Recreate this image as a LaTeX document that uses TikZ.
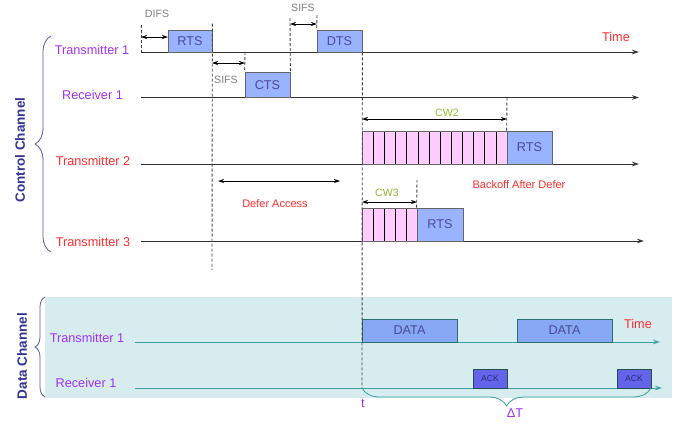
\documentclass[tikz,border=0pt]{standalone}
\usepackage{fontspec}
\setmainfont{Liberation Sans}
\usetikzlibrary{arrows.meta,decorations.pathreplacing,positioning}

\definecolor{lblpurple}{RGB}{160,50,240}
\definecolor{lblred}{RGB}{255,45,45}
\definecolor{boxblue}{RGB}{153,179,255}
\definecolor{boxtext}{RGB}{75,75,150}
\definecolor{slotpink}{RGB}{255,204,255}
\definecolor{cwgreen}{RGB}{150,185,50}
\definecolor{chanblue}{RGB}{51,51,150}
\definecolor{bracecol}{RGB}{85,85,170}
\definecolor{databg}{RGB}{214,236,238}
\definecolor{datateal}{RGB}{60,160,160}
\definecolor{datablue}{RGB}{135,168,245}
\definecolor{ackblue}{RGB}{100,100,235}

\newcommand{\lblfont}{\fontsize{12.7}{15}\selectfont}
\newcommand{\tagfont}{\fontsize{10.6}{13}\selectfont}
\newcommand{\notefont}{\fontsize{11}{13}\selectfont}
\newcommand{\ackfont}{\fontsize{8.6}{10}\selectfont}
\newcommand{\chanfont}{\fontsize{13.5}{16}\selectfont\bfseries}

\tikzset{
  tl/.style={-{Stealth[length=7pt,width=4.5pt]},line width=0.9pt,black!80},
  dl/.style={-{Stealth[length=7pt,width=4.5pt]},line width=0.9pt,datateal},
  gap/.style={{Stealth[length=6pt,width=4pt]}-{Stealth[length=6pt,width=4pt]},line width=0.8pt,black},
  vdash/.style={dash pattern=on 3pt off 2pt,line width=0.9pt,black!75},
  pkt/.style={draw=black!60,fill=boxblue,text=boxtext,inner sep=0pt,font=\lblfont,line width=0.7pt},
  datapkt/.style={draw=datateal!70!black,fill=datablue,text=boxtext,inner sep=0pt,font=\lblfont,line width=0.7pt},
  ackpkt/.style={draw=datateal!50!black,fill=ackblue,text=chanblue!80!black,inner sep=0pt,font=\ackfont,line width=0.7pt},
  slot/.style={draw=black,fill=slotpink,line width=0.5pt},
  station/.style={font=\lblfont,text=#1},
  tag/.style={font=\tagfont,text=#1},
  cbrace/.style={decorate,decoration={brace,amplitude=#1},draw=bracecol,line width=0.8pt}
}

\begin{document}
\begin{tikzpicture}[x=1pt,y=-1pt]
    \useasboundingbox (0,0) rectangle (686,424);

    \fill[databg] (45,297) rectangle (672,398);

    \coordinate (ta1s) at (141,52);   \coordinate (ta1e) at (639,52);
    \coordinate (ra1s) at (141,97.5); \coordinate (ra1e) at (639,97.5);
    \coordinate (ta2s) at (141,164);  \coordinate (ta2e) at (639,164);
    \coordinate (ta3s) at (141,241);  \coordinate (ta3e) at (644,241);
    \coordinate (dt1s) at (135,342);  \coordinate (dt1e) at (660,342);
    \coordinate (dr1s) at (135,388);  \coordinate (dr1e) at (662,388);

    \draw[tl] (ta1s) -- (ta1e);
    \draw[tl] (ra1s) -- (ra1e);
    \draw[tl] (ta2s) -- (ta2e);
    \draw[tl] (ta3s) -- (ta3e);
    \draw[dl] (dt1s) -- (dt1e);
    \draw[dl] (dr1s) -- (dr1e);

    \node[station=lblpurple] (lta1) at (92,50) {Transmitter 1};
    \node[station=lblpurple] (lra1) at (92.5,95) {Receiver 1};
    \node[station=lblred] (lta2) at (93,161) {Transmitter 2};
    \node[station=lblred] (lta3) at (93,242) {Transmitter 3};
    \node[station=lblpurple] (ldt1) at (87,338) {Transmitter 1};
    \node[station=lblpurple] (ldr1) at (86,383) {Receiver 1};

    \node[pkt,minimum width=44pt,minimum height=22pt] (rtsa) at (190,41) {RTS};
    \node[pkt,minimum width=45pt,minimum height=25.5pt] (cts) at (267.5,84.75) {CTS};
    \node[pkt,minimum width=45pt,minimum height=22pt] (dts) at (339.5,41) {DTS};

    \foreach \i in {0,...,12}
        \draw[slot] ({362+11.154*\i},131) rectangle ({362+11.154*(\i+1)},164);
    \draw[black!60,line width=0.7pt] (362,131) rectangle (507,164);
    \node[pkt,minimum width=45pt,minimum height=33pt] (rtsb) at (529.5,147.5) {RTS};

    \foreach \i in {0,...,4}
        \draw[slot] ({362+11*\i},208) rectangle ({362+11*(\i+1)},241);
    \draw[black!60,line width=0.7pt] (362,208) rectangle (417,241);
    \node[pkt,minimum width=46pt,minimum height=33pt] (rtsc) at (440,224.5) {RTS};

    \node[datapkt,minimum width=95pt,minimum height=23pt] (dataa) at (409.5,330.5) {DATA};
    \node[datapkt,minimum width=95pt,minimum height=23pt] (datab) at (564.5,330.5) {DATA};
    \node[ackpkt,minimum width=34pt,minimum height=19pt] (acka) at (490,378.5) {ACK};
    \node[ackpkt,minimum width=34pt,minimum height=19pt] (ackb) at (634,378.5) {ACK};

    \draw[vdash] (141,25) -- (ta1s);
    \draw[vdash] ([yshift=6pt]rtsa.north east) -- (212,270);
    \draw[vdash] (245,52) -- (cts.north west);
    \draw[vdash] (290,18) -- (cts.north east);
    \draw[vdash] (317,15) -- (dts.north west);
    \draw[vdash] (dts.south east) -- (362,388);
    \draw[vdash] (rtsb.north west) -- (507,97.5);
    \draw[vdash] (rtsc.north west) -- (417,180);

    \draw[gap] (141,37) -- (168,37);
    \draw[gap] (212,63) -- (245,63);
    \draw[gap] (290,24) -- (317,24);
    \draw[gap] (362,119) -- (507,119);
    \draw[gap] (218,181) -- (340,181);
    \draw[gap] (362,202) -- (417,202);

    \node[tag=black!50] (difs) at (157,14) {DIFS};
    \node[tag=black!50] (sifsa) at (226,80) {SIFS};
    \node[tag=black!50] (sifsb) at (303,8) {SIFS};
    \node[tag=cwgreen] (cwb) at (447,113) {CW2};
    \node[tag=cwgreen] (cwc) at (387,193) {CW3};
    \node[font=\notefont,text=lblred] (defer) at (275,204) {Defer Access};
    \node[font=\notefont,text=lblred] (backoff) at (519,185) {Backoff After Defer};
    \node[station=lblred] (timea) at (616,37) {Time};
    \node[station=lblred] (timeb) at (638,324) {Time};
    \node[station=lblpurple] (tstart) at (363,403) {t};
    \node[station=lblpurple] (dtime) at (515,413) {ΔT};

    \draw[cbrace=16pt] (51,252) -- (51,36);
    \draw[cbrace=10pt] (45,397) -- (45,297);
    \draw[cbrace=18pt,draw=datateal] (651,388) -- (362,388);

    \node[font=\chanfont,text=chanblue,rotate=90] (ctrl) at (20,150) {Control Channel};
    \node[font=\chanfont,text=chanblue,rotate=90] (data) at (22,356) {Data Channel};
\end{tikzpicture}
\end{document}
